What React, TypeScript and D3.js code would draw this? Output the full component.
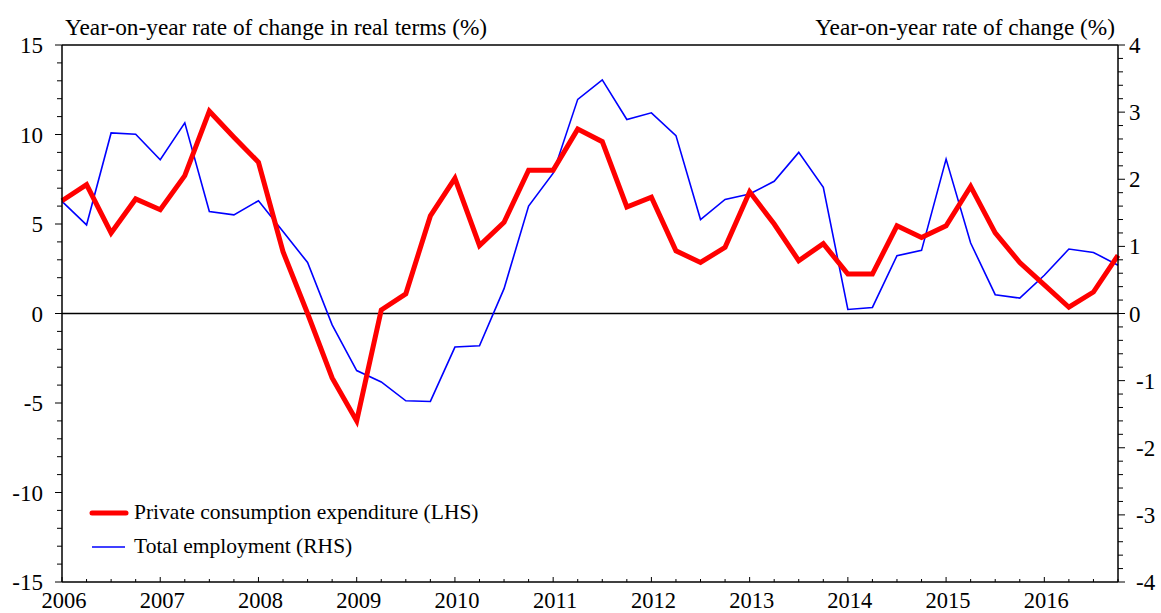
import React from "react";
import * as d3 from "d3";

const W = 1161;
const H = 613;

const years = [2006, 2007, 2008, 2009, 2010, 2011, 2012, 2013, 2014, 2015, 2016];
const leftTicks = [15, 10, 5, 0, -5, -10, -15];
const rightTicks = [4, 3, 2, 1, 0, -1, -2, -3, -4];

// quarterly, 2006Q1 .. 2016Q4
const consumption = [
  6.3, 7.2, 4.5, 6.4, 5.8, 7.7, 11.3, 9.85, 8.45, 3.45, 0.0, -3.6,
  -6.0, 0.2, 1.1, 5.45, 7.55, 3.8, 5.1, 8.0, 8.0, 10.3, 9.6, 5.95,
  6.5, 3.5, 2.85, 3.7, 6.8, 5.0, 2.95, 3.9, 2.2, 2.2, 4.9, 4.25,
  4.9, 7.1, 4.5, 2.85, 1.6, 0.35, 1.2, 3.25,
];
const employment = [
  1.67, 1.32, 2.69, 2.67, 2.29, 2.84, 1.52, 1.47, 1.68, 1.22, 0.76, -0.17,
  -0.85, -1.02, -1.3, -1.31, -0.5, -0.48, 0.37, 1.6, 2.09, 3.19, 3.48, 2.89,
  2.99, 2.65, 1.4, 1.7, 1.78, 1.97, 2.4, 1.88, 0.06, 0.09, 0.86, 0.94,
  2.3, 1.05, 0.28, 0.23, 0.57, 0.96, 0.91, 0.72,
];

const leftTitle = "Year-on-year rate of change in real terms (%)";
const rightTitle = "Year-on-year rate of change (%)";
const legendLabels = ["Private consumption expenditure (LHS)", "Total employment (RHS)"];

const FONT = "'Liberation Serif', 'Times New Roman', serif";
const TICK_FS = 23;

export default function App() {
  const x0 = 62, x1 = 1118, y0 = 45, y1 = 582;
  const x = d3.scaleLinear().domain([2006, 2016.75]).range([x0, x1]);
  const yL = d3.scaleLinear().domain([-15, 15]).range([y1, y0]);
  const yR = d3.scaleLinear().domain([-4, 4]).range([y1, y0]);
  const t = (i: number) => 2006 + i * 0.25;

  const lineL = d3.line<number>().x((_, i) => x(t(i))).y((d) => yL(d));
  const lineR = d3.line<number>().x((_, i) => x(t(i))).y((d) => yR(d));

  const leftMinor = d3.range(-15, 15.001, 1);
  const rightMinor = d3.range(-4, 4.001, 0.2);
  const quarters = d3.range(2006, 2016.751, 0.25);

  return (
    <svg width={W} height={H} style={{ position: "fixed", left: 0, top: 0, display: "block", background: "#fff" }}>
      <rect x={0} y={0} width={W} height={H} fill="#fff" />
      {/* zero line */}
      <line x1={x0} x2={x1} y1={yL(0)} y2={yL(0)} stroke="#000" strokeWidth={1.5} />
      {/* series */}
      <path d={lineR(employment) || ""} fill="none" stroke="#0000ff" strokeWidth={1.6} strokeLinejoin="miter" />
      <path d={lineL(consumption) || ""} fill="none" stroke="#ff0000" strokeWidth={5} strokeLinejoin="miter" />

      {/* frame */}
      <line x1={x0} x2={x1} y1={y0} y2={y0} stroke="#000" strokeWidth={1.5} />
      <line x1={x0} x2={x1} y1={y1} y2={y1} stroke="#000" strokeWidth={1.5} />
      <line x1={x0} x2={x0} y1={y0} y2={y1} stroke="#000" strokeWidth={1.5} />
      <line x1={x1} x2={x1} y1={y0} y2={y1} stroke="#000" strokeWidth={1.5} />

      {/* left ticks */}
      {leftMinor.map((v) => (
        <line key={"lm" + v} x1={x0 - (v % 5 === 0 ? 7 : 5)} x2={x0} y1={yL(v)} y2={yL(v)} stroke="#000" strokeWidth={1} />
      ))}
      {leftTicks.map((v) => (
        <text key={"lt" + v} x={43} y={yL(v)} dy="0.35em" textAnchor="end" fontFamily={FONT} fontSize={TICK_FS} fill="#000">
          {v}
        </text>
      ))}
      {/* right ticks */}
      {rightMinor.map((v, i) => (
        <line key={"rm" + i} x1={x1} x2={x1 + (i % 5 === 0 ? 7 : 5)} y1={yR(v)} y2={yR(v)} stroke="#000" strokeWidth={1} />
      ))}
      {rightTicks.map((v) => (
        <text key={"rt" + v} x={v < 0 ? 1136 : 1129} y={yR(v)} dy="0.35em" textAnchor="start" fontFamily={FONT} fontSize={TICK_FS} fill="#000">
          {v}
        </text>
      ))}
      {/* bottom ticks */}
      {quarters.map((q, i) => (
        <line key={"q" + i} x1={x(q)} x2={x(q)} y1={y1} y2={y1 - (i % 4 === 0 ? 5 : 3)} stroke="#000" strokeWidth={1} />
      ))}
      {years.map((yv) => (
        <text key={"y" + yv} x={x(yv) + 2} y={608} textAnchor="middle" fontFamily={FONT} fontSize={22.5} fill="#000">
          {yv}
        </text>
      ))}

      {/* titles */}
      <text x={65} y={35} fontFamily={FONT} fontSize={23.3} fill="#000">{leftTitle}</text>
      <text x={1115} y={35} textAnchor="end" fontFamily={FONT} fontSize={23.3} fill="#000">{rightTitle}</text>

      {/* legend */}
      <line x1={92} x2={126} y1={513} y2={513} stroke="#ff0000" strokeWidth={5} strokeLinecap="round" />
      <text x={134} y={519} fontFamily={FONT} fontSize={21.5} fill="#000">{legendLabels[0]}</text>
      <line x1={92} x2={125} y1={547} y2={547} stroke="#0000ff" strokeWidth={1.6} />
      <text x={134} y={553} fontFamily={FONT} fontSize={21.5} fill="#000">{legendLabels[1]}</text>
    </svg>
  );
}
